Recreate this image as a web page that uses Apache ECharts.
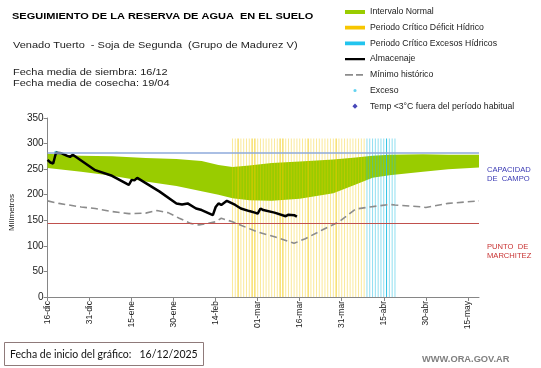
<!DOCTYPE html>
<html><head><meta charset="utf-8">
<script src="https://cdn.jsdelivr.net/npm/echarts@6/dist/echarts.min.js"></script>
<style>html,body{margin:0;padding:0;background:#fff}#c{width:541px;height:368px}</style>
</head><body><div id="c"></div>
<script>
// ---- data (x = days since 16-dic-2025) ----
const tickLabels = ['16-dic','31-dic','15-ene','30-ene','14-feb','01-mar','16-mar','31-mar','15-abr','30-abr','15-may'];
const tickDays = [0,15,30,45,60,75,90,105,120,135,150];

const bandDays  = [0, 12, 23, 35, 46, 55, 61, 66, 72, 80, 90, 102, 110, 116, 122, 134, 143, 154];
const bandUpper = [280, 276, 275, 272, 270, 266, 258, 254, 257, 262, 265, 269, 273, 276, 278, 279, 278, 278];
const bandLower = [252, 245, 237, 226, 217, 207, 200, 193, 189, 188, 192, 203, 220, 233, 238, 245, 250, 253];

const storageDays   = [0, 1, 2, 3, 5, 7, 8, 9, 17, 23, 28, 29, 30, 31, 32, 40, 46, 48, 50, 53, 55, 59, 60, 61, 62, 64, 67, 69, 72, 74, 75, 76, 77, 81, 85, 86, 88, 89];
const storageValues = [268, 263, 261, 282, 281, 276, 274, 278, 248, 237, 222, 219, 229, 228, 233, 206, 183, 181, 183, 173, 170, 160, 176, 183, 180, 188, 180, 173, 168, 165, 163, 173, 170, 165, 158, 161, 160, 157];

const minDays   = [0, 4, 12, 17, 23, 29, 35, 39, 43, 47, 51, 54, 60, 62, 66, 75, 81, 88, 92, 98, 104, 110, 115, 122, 124, 134, 135, 143, 154];
const minValues = [188, 183, 176, 173, 167, 163, 164, 169, 165, 154, 144, 141, 147, 154, 147, 127, 118, 105, 114, 131, 147, 172, 176, 181, 180, 176, 175, 183, 188];

const deficitDays = [66,67,68,69,70,71,72,73,74,75,76,77,78,79,80,81,82,83,84,85,86,87,88,89,90,91,92,93,94,95,96,97,98,99,100,101,102,103,104,105,106,107,108,109,110,111,112,113];
const deficitStrongDays = [68, 73, 74, 83, 84, 93, 103];
const excessDays = [114,115,116,117,118,119,120,121,122,123,124];
const excessStrongDays = [121];
const periodTop = 310;

const excesoPoints = [[3, 282]];
const coldPoints = [];
const fieldCapacity = 282;
const wiltingPoint = 144;

// ---- chart ----
const chart = echarts.init(document.getElementById('c'), null, {renderer: 'canvas'});
const pairs = (xs, ys) => xs.map((x, i) => [x, ys[i]]);
const barItems = (days, strong, strongOpacity) => days.map(d =>
  strong.includes(d) ? {value: [d, periodTop], itemStyle: {opacity: strongOpacity}} : {value: [d, periodTop]});

const FONT = '"Liberation Sans", Arial, sans-serif';
const AX = '#868686';
// invisible corner marks fix each legend icon's box at 20x6 so symbols keep their natural size
const PAD = ' M-10,-3h0.01v0.01h-0.01z M10,3h-0.01v-0.01h0.01z';
const icon = p => 'path://' + p + PAD;

const option = {
  animation: false,
  backgroundColor: '#ffffff',
  textStyle: {fontFamily: FONT},
  grid: {left: 33, right: 62, top: 118, bottom: 71},
  legend: {
    orient: 'vertical', left: 345, top: 7, padding: 0,
    itemWidth: 20, itemHeight: 6, itemGap: 5.7, selectedMode: false, symbolKeepAspect: true,
    textStyle: {fontSize: 8.7, lineHeight: 10, color: '#222', fontFamily: FONT},
    data: [
      {name: 'Intervalo Normal', icon: icon('M-10,-1.9h20v3.8h-20z'), itemStyle: {color: '#99cc00', opacity: 1}},
      {name: 'Periodo Crítico Déficit Hídrico', icon: icon('M-10,-1.9h20v3.8h-20z'), itemStyle: {color: '#f7c600', opacity: 1}},
      {name: 'Periodo Crítico Excesos Hídricos', icon: icon('M-10,-1.9h20v3.8h-20z'), itemStyle: {color: '#22c4ee', opacity: 1}},
      {name: 'Almacenaje', icon: icon('M-10,-1.1h20v2.2h-20z'), itemStyle: {color: '#000'}},
      {name: 'Mínimo histórico', icon: icon('M-10,-0.9h8v1.8h-8z M1,-0.9h7v1.8h-7z'), itemStyle: {color: '#8c8c8c'}},
      {name: 'Exceso', icon: icon('M-1.6,0 a1.6,1.6 0 1,0 3.2,0 a1.6,1.6 0 1,0 -3.2,0z'), itemStyle: {color: '#3cc8ec'}},
      {name: 'Temp <3°C fuera del período habitual', icon: icon('M0,-2.6L2.6,0L0,2.6L-2.6,0z'), itemStyle: {color: '#1a1aa8'}}
    ]
  },
  xAxis: {
    type: 'value', min: 0, max: 154, interval: 15,
    axisLine: {show: true, onZero: false, lineStyle: {color: AX, width: 1}},
    axisTick: {show: true, length: 4, customValues: tickDays, lineStyle: {color: AX}},
    axisLabel: {
      customValues: tickDays, rotate: 90, fontSize: 8.5, margin: 4, color: '#222',
      formatter: v => tickLabels[tickDays.indexOf(Math.round(v))] || ''
    },
    splitLine: {show: false}
  },
  yAxis: {
    type: 'value', min: 0, max: 350, interval: 50,
    axisLine: {show: true, lineStyle: {color: AX, width: 1}},
    axisTick: {show: true, length: 4, lineStyle: {color: AX}},
    axisLabel: {fontSize: 10, margin: 4, color: '#222'},
    splitLine: {show: false},
    name: 'Milímetros', nameLocation: 'middle', nameGap: 28, nameRotate: 90,
    nameTextStyle: {fontSize: 8, color: '#222', padding: [0, 10, 0, 0]}
  },
  series: [
    {
      name: 'Intervalo Normal', type: 'custom', silent: true,
      itemStyle: {color: '#99cc00'},
      data: [[0, 0]],
      renderItem: (params, api) => {
        const up = bandDays.map((d, i) => api.coord([d, bandUpper[i]]));
        const lo = bandDays.map((d, i) => api.coord([d, bandLower[i]])).reverse();
        return {type: 'polygon', shape: {points: up.concat(lo)}, style: {fill: '#99cc00'}};
      }
    },
    {
      name: 'Periodo Crítico Déficit Hídrico', type: 'bar', barWidth: 1, barGap: '-100%', silent: true,
      itemStyle: {color: '#f2c800', opacity: 0.4},
      data: barItems(deficitDays, deficitStrongDays, 0.85)
    },
    {
      name: 'Periodo Crítico Excesos Hídricos', type: 'bar', barWidth: 1, barGap: '-100%', silent: true,
      itemStyle: {color: '#22bfe3', opacity: 0.5},
      data: barItems(excessDays, excessStrongDays, 0.95)
    },
    {
      name: 'Mínimo histórico', type: 'line', symbol: 'none', silent: true,
      itemStyle: {color: '#8c8c8c'},
      lineStyle: {color: '#8c8c8c', width: 1.6, type: [7, 4]},
      data: pairs(minDays, minValues)
    },
    {
      name: 'Almacenaje', type: 'line', symbol: 'none', silent: true,
      itemStyle: {color: '#000'},
      lineStyle: {color: '#000', width: 2.5},
      data: pairs(storageDays, storageValues),
      markLine: {
        silent: true, symbol: 'none', label: {show: false},
        data: [
          {yAxis: fieldCapacity, lineStyle: {color: '#8eaadb', width: 1.5, type: 'solid'}},
          {yAxis: wiltingPoint, lineStyle: {color: '#c0504d', width: 1, type: 'solid'}}
        ]
      }
    },
    {
      name: 'Exceso', type: 'scatter', symbol: 'circle', symbolSize: 4, silent: true,
      itemStyle: {color: '#3cc8ec'},
      data: excesoPoints
    },
    {
      name: 'Temp <3°C fuera del período habitual', type: 'scatter', symbol: 'diamond', symbolSize: 6, silent: true,
      itemStyle: {color: '#1a1aa8'},
      data: coldPoints
    }
  ],
  graphic: [
    {type: 'text', x: 12, y: 16, scaleY: 0.88, style: {text: 'SEGUIMIENTO DE LA RESERVA DE AGUA  EN EL SUELO', font: 'bold 11px ' + FONT, fill: '#000', verticalAlign: 'middle'}},
    {type: 'text', x: 13, y: 45, scaleY: 0.88, style: {text: 'Venado Tuerto  - Soja de Segunda  (Grupo de Madurez V)', font: '11px ' + FONT, fill: '#222', verticalAlign: 'middle'}},
    {type: 'text', x: 13, y: 72, scaleY: 0.88, style: {text: 'Fecha media de siembra: 16/12', font: '11px ' + FONT, fill: '#222', verticalAlign: 'middle'}},
    {type: 'text', x: 13, y: 83, scaleY: 0.88, style: {text: 'Fecha media de cosecha: 19/04', font: '11px ' + FONT, fill: '#222', verticalAlign: 'middle'}},
    {type: 'text', x: 487, y: 174.5, style: {text: 'CAPACIDAD\nDE  CAMPO', font: '7.6px ' + FONT, fill: '#3a3ab4', verticalAlign: 'middle', lineHeight: 9}},
    {type: 'text', x: 487, y: 251, style: {text: 'PUNTO  DE\nMARCHITEZ', font: '7.6px ' + FONT, fill: '#c83232', verticalAlign: 'middle', lineHeight: 9}},
    {type: 'rect', shape: {x: 4.5, y: 342.5, width: 199, height: 23}, style: {fill: 'none', stroke: '#8f7a7a', lineWidth: 1}},
    {type: 'text', x: 10, y: 354.5, style: {text: 'Fecha de inicio del gráfico:   16/12/2025', font: '10.5px Lato, ' + FONT, fill: '#111', verticalAlign: 'middle'}},
    {type: 'text', x: 422, y: 359, style: {text: 'WWW.ORA.GOV.AR', font: 'bold 9.3px ' + FONT, fill: '#808080', verticalAlign: 'middle'}}
  ]
};
chart.setOption(option);
</script>
</body></html>
